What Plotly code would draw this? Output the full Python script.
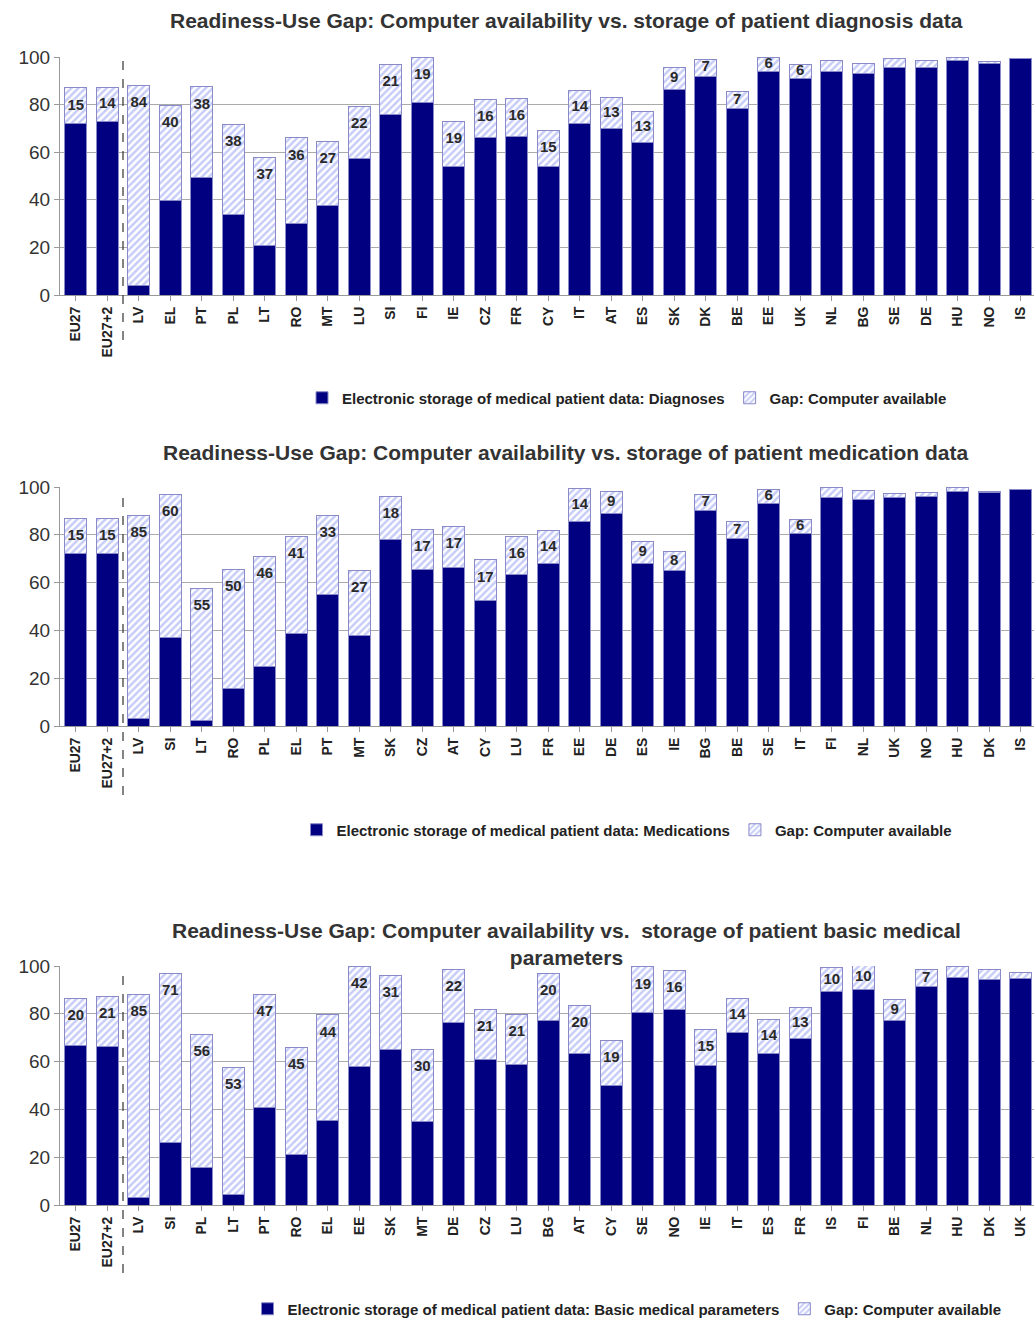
import plotly.graph_objects as go

# ---- Chart 1: diagnosis data ----
cats_diag = ["EU27", "EU27+2", "LV", "EL", "PT", "PL", "LT", "RO", "MT", "LU", "SI", "FI",
             "IE", "CZ", "FR", "CY", "IT", "AT", "ES", "SK", "DK", "BE", "EE", "UK", "NL",
             "BG", "SE", "DE", "HU", "NO", "IS"]
use_diag = [72, 73, 4, 39.6, 49.4, 33.8, 20.9, 30, 37.7, 57.2, 76, 81, 54, 66, 66.6, 54,
            72, 70, 64, 86.5, 92, 78.5, 94, 91, 93.7, 92.9, 95.7, 95.7, 98.5, 97.4, 99.3]
gap_diag = [15, 14, 84, 40, 38, 38, 37, 36, 27, 22, 21, 19, 19, 16, 16, 15, 14, 13, 13, 9,
            7, 7, 6, 6, 4.9, 4.2, 3.6, 2.9, 1.2, 0.6, 0]
lbl_diag = [15, 14, 84, 40, 38, 38, 37, 36, 27, 22, 21, 19, 19, 16, 16, 15, 14, 13, 13, 9,
            7, 7, 6, 6, None, None, None, None, None, None, None]

# ---- Chart 2: medication data ----
cats_med = ["EU27", "EU27+2", "LV", "SI", "LT", "RO", "PL", "EL", "PT", "MT", "SK", "CZ",
            "AT", "CY", "LU", "FR", "EE", "DE", "ES", "IE", "BG", "BE", "SE", "IT", "FI",
            "NL", "UK", "NO", "HU", "DK", "IS"]
use_med = [72, 72, 3, 37, 2.5, 15.5, 25, 38.5, 55, 38, 78, 65.3, 66.5, 52.5, 63.5, 68,
           85.5, 89, 68, 65, 90, 78.5, 93, 80.6, 95.5, 94.7, 95.5, 96.1, 98.1, 97.8, 99]
gap_med = [15, 15, 85, 60, 55, 50, 46, 41, 33, 27, 18, 17, 17, 17, 16, 14, 14, 9, 9, 8,
           7, 7, 6, 6, 4.5, 3.8, 1.6, 1.8, 1.6, 0.5, 0]
lbl_med = [15, 15, 85, 60, 55, 50, 46, 41, 33, 27, 18, 17, 17, 17, 16, 14, 14, 9, 9, 8,
           7, 7, 6, 6, None, None, None, None, None, None, None]

# ---- Chart 3: basic medical parameters ----
cats_par = ["EU27", "EU27+2", "LV", "SI", "PL", "LT", "PT", "RO", "EL", "EE", "SK", "MT",
            "DE", "CZ", "LU", "BG", "AT", "CY", "SE", "NO", "IE", "IT", "ES", "FR", "IS",
            "FI", "BE", "NL", "HU", "DK", "UK"]
use_par = [66.6, 66.4, 3, 26, 15.5, 4.5, 41, 21, 35.5, 58, 65, 35.1, 76.5, 61, 58.7, 77,
           63.5, 50, 80.6, 82, 58.5, 72.2, 63.5, 69.6, 89.2, 90.1, 77, 91.5, 95.1, 94.4, 94.7]
gap_par = [20, 21, 85, 71, 56, 53, 47, 45, 44, 42, 31, 30, 22, 21, 21, 20, 20, 19, 19, 16,
           15, 14, 14, 13, 10, 10, 9, 7, 4.9, 4.2, 2.5]
lbl_par = [20, 21, 85, 71, 56, 53, 47, 45, 44, 42, 31, 30, 22, 21, 21, 20, 20, 19, 19, 16,
           15, 14, 14, 13, 10, 10, 9, 7, None, None, None]

titles = [
    "Readiness-Use Gap: Computer availability vs. storage of patient diagnosis data",
    "Readiness-Use Gap: Computer availability vs. storage of patient medication data",
    "Readiness-Use Gap: Computer availability vs.  storage of patient basic medical<br>parameters",
]
use_names = [
    "Electronic storage of medical patient data: Diagnoses",
    "Electronic storage of medical patient data: Medications",
    "Electronic storage of medical patient data: Basic medical parameters",
]
gap_name = "Gap: Computer available"

W, H = 1034, 1318
NAVY = "#000080"
EDGE = "#8a8ac8"
FONT = "Liberation Sans, Arial, sans-serif"
TXT = "#333333"

panels = [
    dict(cats=cats_diag, use=use_diag, gap=gap_diag, lbl=lbl_diag, top=57, bot=295,
         title_y=21, legend_y=398, dash_bot=340),
    dict(cats=cats_med, use=use_med, gap=gap_med, lbl=lbl_med, top=487, bot=726,
         title_y=452, legend_y=830, dash_bot=795),
    dict(cats=cats_par, use=use_par, gap=gap_par, lbl=lbl_par, top=966, bot=1205,
         title_y=944, legend_y=1309, dash_bot=1273),
]


def py(px):
    """Convert a pixel row (from the top) to paper coordinates."""
    return 1 - px / H


fig = go.Figure()
annotations = []
shapes = []
layout_extra = {}

for i, p in enumerate(panels):
    n = i + 1
    xa = "x" if n == 1 else f"x{n}"
    ya = "y" if n == 1 else f"y{n}"
    lg = "legend" if n == 1 else f"legend{n}"
    xs = list(range(len(p["cats"])))

    fig.add_trace(go.Bar(
        x=xs, y=p["use"], name=use_names[i], xaxis=xa, yaxis=ya, legend=lg,
        marker=dict(color=NAVY, line=dict(color=EDGE, width=1)),
        hoverinfo="skip",
    ))
    fig.add_trace(go.Bar(
        x=xs, y=p["gap"], name=gap_name, xaxis=xa, yaxis=ya, legend=lg,
        marker=dict(color="white", line=dict(color=EDGE, width=1),
                    pattern=dict(shape="/", fgcolor="#8e9af0", bgcolor="white",
                                 size=5, solidity=0.5)),
        hoverinfo="skip",
    ))

    # Gap labels: near the top of tall gap segments, centred in short ones
    lx, ly, lt = [], [], []
    for x, u, g, lab in zip(xs, p["use"], p["gap"], p["lbl"]):
        if lab is None:
            continue
        lx.append(x)
        ly.append(max(u + g - 7.5, u + g / 2))
        lt.append(str(lab))
    fig.add_trace(go.Scatter(
        x=lx, y=ly, text=lt, mode="text", xaxis=xa, yaxis=ya, showlegend=False,
        textfont=dict(family=FONT, size=15, color="#2a2a2a", weight="bold"),
        textposition="middle center", cliponaxis=False, hoverinfo="skip",
    ))

    dom = [py(p["bot"]), py(p["top"])]
    layout_extra[("xaxis" if n == 1 else f"xaxis{n}")] = dict(
        domain=[60 / W, 1.0], anchor=ya, range=[-0.5, 30.42],
        tickmode="array", tickvals=xs, ticktext=p["cats"], tickangle=-90,
        tickfont=dict(family=FONT, size=14, color="#222", weight="bold"),
        showline=True, linecolor="#999999", linewidth=1,
        ticks="outside", tickson="boundaries", ticklen=5, tickcolor="#999999",
        showgrid=False, zeroline=False, fixedrange=True,
    )
    layout_extra[("yaxis" if n == 1 else f"yaxis{n}")] = dict(
        domain=dom, anchor=xa, range=[0, 100], tickvals=[0, 20, 40, 60, 80, 100],
        tickfont=dict(family=FONT, size=19, color=TXT),
        showline=True, linecolor="#999999", linewidth=1,
        ticks="outside", ticklen=5, tickcolor="#999999",
        showgrid=True, gridcolor="#aaaaaa", gridwidth=1, zeroline=False, fixedrange=True,
    )
    layout_extra[lg] = dict(
        orientation="h", x=627 / W, xanchor="center", y=py(p["legend_y"]), yanchor="middle",
        font=dict(family=FONT, size=15, color="#222", weight="bold"),
        bgcolor="rgba(0,0,0,0)", itemwidth=30, traceorder="normal",
    )

    annotations.append(dict(
        text=titles[i], x=566 / W, y=py(p["title_y"]), xref="paper", yref="paper",
        xanchor="center", yanchor="middle", showarrow=False,
        font=dict(family=FONT, size=21, color=TXT, weight="bold"),
    ))
    # Dashed separator between the EU aggregates and the countries
    shapes.append(dict(
        type="line", xref=xa, yref="paper", x0=1.5, x1=1.5,
        y0=py(p["dash_bot"]), y1=py(p["top"] + 3),
        line=dict(color="#333333", width=1.2, dash="dash"),
    ))

fig.update_layout(
    width=W, height=H, margin=dict(l=0, r=0, t=0, b=0, autoexpand=False),
    paper_bgcolor="white", plot_bgcolor="white",
    barmode="stack", bargap=0.3,
    font=dict(family=FONT, color=TXT),
    annotations=annotations, shapes=shapes,
    **layout_extra,
)

fig.write_html("out.html")
